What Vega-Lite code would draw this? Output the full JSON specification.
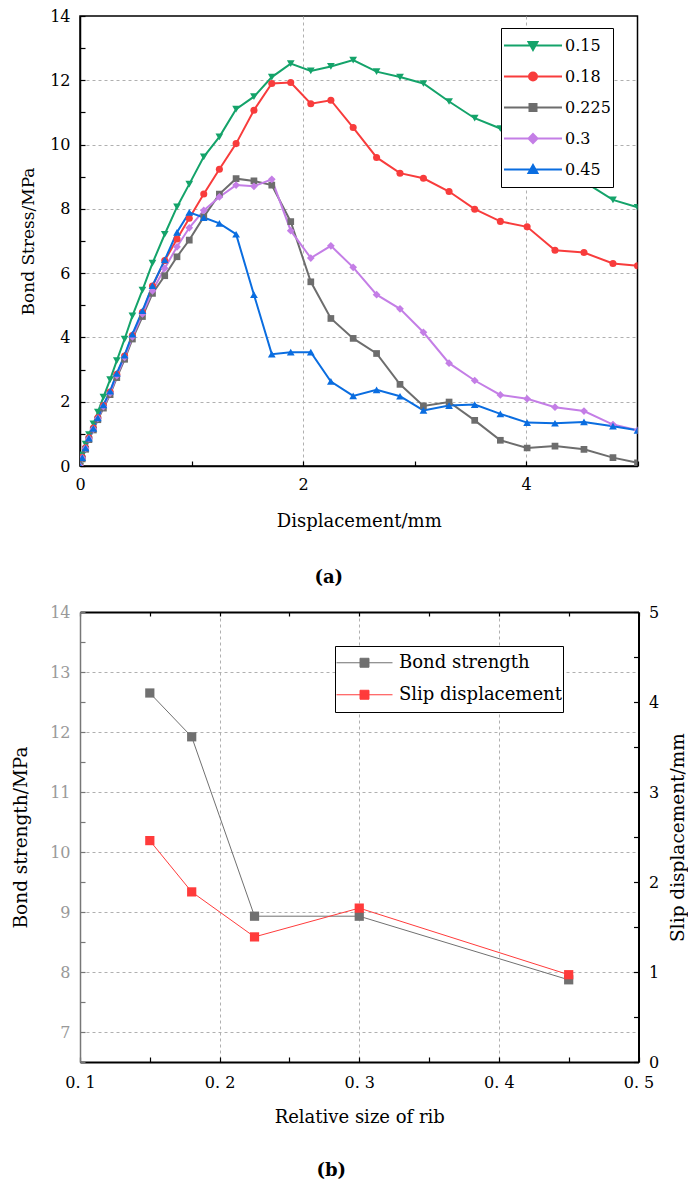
{
  "$schema": "https://vega.github.io/schema/vega-lite/v6.json",
  "padding": {"left": 11, "top": 7, "right": 0, "bottom": 0},
  "spacing": 16,
  "resolve": {"scale": {"color": "independent", "shape": "independent"}, "legend": {"color": "independent", "shape": "independent"}},
  "config": {
    "font": "DejaVu Serif",
    "axis": {"labelFont": "DejaVu Serif", "titleFont": "DejaVu Serif", "labelColor": "black", "titleColor": "black", "titleFontWeight": "normal", "domainColor": "black", "tickColor": "black", "gridColor": "#b0b0b0", "gridDash": [3, 3], "gridWidth": 1, "labelFlush": false, "labelOverlap": false},
    "legend": {"labelFont": "DejaVu Serif", "labelColor": "black"},
    "title": {"font": "DejaVu Serif", "color": "black"}
  },
  "datasets": {
    "a": [
      {"r": "0.15", "d": 0, "s": 0}, {"r": "0.15", "d": 0.02, "s": 0.35}, {"r": "0.15", "d": 0.05, "s": 0.68}, {"r": "0.15", "d": 0.08, "s": 0.98}, {"r": "0.15", "d": 0.12, "s": 1.31}, {"r": "0.15", "d": 0.16, "s": 1.68}, {"r": "0.15", "d": 0.21, "s": 2.14}, {"r": "0.15", "d": 0.27, "s": 2.69}, {"r": "0.15", "d": 0.33, "s": 3.28}, {"r": "0.15", "d": 0.40, "s": 3.95}, {"r": "0.15", "d": 0.47, "s": 4.67},
      {"r": "0.15", "d": 0.56, "s": 5.47}, {"r": "0.15", "d": 0.65, "s": 6.31}, {"r": "0.15", "d": 0.76, "s": 7.21}, {"r": "0.15", "d": 0.87, "s": 8.06}, {"r": "0.15", "d": 0.98, "s": 8.77}, {"r": "0.15", "d": 1.11, "s": 9.62}, {"r": "0.15", "d": 1.25, "s": 10.24}, {"r": "0.15", "d": 1.40, "s": 11.1}, {"r": "0.15", "d": 1.56, "s": 11.49}, {"r": "0.15", "d": 1.72, "s": 12.10}, {"r": "0.15", "d": 1.89, "s": 12.52}, {"r": "0.15", "d": 2.07, "s": 12.29}, {"r": "0.15", "d": 2.25, "s": 12.43}, {"r": "0.15", "d": 2.45, "s": 12.63}, {"r": "0.15", "d": 2.66, "s": 12.27}, {"r": "0.15", "d": 2.87, "s": 12.10}, {"r": "0.15", "d": 3.08, "s": 11.90}, {"r": "0.15", "d": 3.31, "s": 11.34}, {"r": "0.15", "d": 3.54, "s": 10.82}, {"r": "0.15", "d": 3.77, "s": 10.5}, {"r": "0.15", "d": 4.01, "s": 9.97}, {"r": "0.15", "d": 4.26, "s": 9.42}, {"r": "0.15", "d": 4.52, "s": 8.85}, {"r": "0.15", "d": 4.78, "s": 8.28}, {"r": "0.15", "d": 5.0, "s": 8.05},
      {"r": "0.18", "d": 0, "s": 0}, {"r": "0.18", "d": 0.02, "s": 0.27}, {"r": "0.18", "d": 0.05, "s": 0.57}, {"r": "0.18", "d": 0.08, "s": 0.88}, {"r": "0.18", "d": 0.12, "s": 1.18}, {"r": "0.18", "d": 0.16, "s": 1.5}, {"r": "0.18", "d": 0.21, "s": 1.88}, {"r": "0.18", "d": 0.27, "s": 2.3}, {"r": "0.18", "d": 0.33, "s": 2.85}, {"r": "0.18", "d": 0.40, "s": 3.42}, {"r": "0.18", "d": 0.47, "s": 4.06},
      {"r": "0.18", "d": 0.56, "s": 4.78}, {"r": "0.18", "d": 0.65, "s": 5.6}, {"r": "0.18", "d": 0.76, "s": 6.39}, {"r": "0.18", "d": 0.87, "s": 7.06}, {"r": "0.18", "d": 0.98, "s": 7.71}, {"r": "0.18", "d": 1.11, "s": 8.46}, {"r": "0.18", "d": 1.25, "s": 9.23}, {"r": "0.18", "d": 1.40, "s": 10.03}, {"r": "0.18", "d": 1.56, "s": 11.07}, {"r": "0.18", "d": 1.72, "s": 11.9}, {"r": "0.18", "d": 1.89, "s": 11.93}, {"r": "0.18", "d": 2.07, "s": 11.27}, {"r": "0.18", "d": 2.25, "s": 11.38}, {"r": "0.18", "d": 2.45, "s": 10.53}, {"r": "0.18", "d": 2.66, "s": 9.6}, {"r": "0.18", "d": 2.87, "s": 9.11}, {"r": "0.18", "d": 3.08, "s": 8.95}, {"r": "0.18", "d": 3.31, "s": 8.54}, {"r": "0.18", "d": 3.54, "s": 7.99}, {"r": "0.18", "d": 3.77, "s": 7.61}, {"r": "0.18", "d": 4.01, "s": 7.44}, {"r": "0.18", "d": 4.26, "s": 6.71}, {"r": "0.18", "d": 4.52, "s": 6.64}, {"r": "0.18", "d": 4.78, "s": 6.30}, {"r": "0.18", "d": 5.0, "s": 6.23},
      {"r": "0.225", "d": 0, "s": 0}, {"r": "0.225", "d": 0.02, "s": 0.22}, {"r": "0.225", "d": 0.05, "s": 0.52}, {"r": "0.225", "d": 0.08, "s": 0.82}, {"r": "0.225", "d": 0.12, "s": 1.12}, {"r": "0.225", "d": 0.16, "s": 1.44}, {"r": "0.225", "d": 0.21, "s": 1.8}, {"r": "0.225", "d": 0.27, "s": 2.22}, {"r": "0.225", "d": 0.33, "s": 2.75}, {"r": "0.225", "d": 0.40, "s": 3.32}, {"r": "0.225", "d": 0.47, "s": 3.95},
      {"r": "0.225", "d": 0.56, "s": 4.65}, {"r": "0.225", "d": 0.65, "s": 5.37}, {"r": "0.225", "d": 0.76, "s": 5.92}, {"r": "0.225", "d": 0.87, "s": 6.51}, {"r": "0.225", "d": 0.98, "s": 7.03}, {"r": "0.225", "d": 1.11, "s": 7.75}, {"r": "0.225", "d": 1.25, "s": 8.46}, {"r": "0.225", "d": 1.40, "s": 8.94}, {"r": "0.225", "d": 1.56, "s": 8.87}, {"r": "0.225", "d": 1.72, "s": 8.74}, {"r": "0.225", "d": 1.89, "s": 7.6}, {"r": "0.225", "d": 2.07, "s": 5.73}, {"r": "0.225", "d": 2.25, "s": 4.59}, {"r": "0.225", "d": 2.45, "s": 3.97}, {"r": "0.225", "d": 2.66, "s": 3.5}, {"r": "0.225", "d": 2.87, "s": 2.54}, {"r": "0.225", "d": 3.08, "s": 1.87}, {"r": "0.225", "d": 3.31, "s": 1.99}, {"r": "0.225", "d": 3.54, "s": 1.42}, {"r": "0.225", "d": 3.77, "s": 0.80}, {"r": "0.225", "d": 4.01, "s": 0.56}, {"r": "0.225", "d": 4.26, "s": 0.62}, {"r": "0.225", "d": 4.52, "s": 0.52}, {"r": "0.225", "d": 4.78, "s": 0.26}, {"r": "0.225", "d": 5.0, "s": 0.10},
      {"r": "0.3", "d": 0, "s": 0}, {"r": "0.3", "d": 0.02, "s": 0.25}, {"r": "0.3", "d": 0.05, "s": 0.55}, {"r": "0.3", "d": 0.08, "s": 0.85}, {"r": "0.3", "d": 0.12, "s": 1.15}, {"r": "0.3", "d": 0.16, "s": 1.48}, {"r": "0.3", "d": 0.21, "s": 1.85}, {"r": "0.3", "d": 0.27, "s": 2.27}, {"r": "0.3", "d": 0.33, "s": 2.81}, {"r": "0.3", "d": 0.40, "s": 3.38}, {"r": "0.3", "d": 0.47, "s": 4.02},
      {"r": "0.3", "d": 0.56, "s": 4.73}, {"r": "0.3", "d": 0.65, "s": 5.45}, {"r": "0.3", "d": 0.76, "s": 6.15}, {"r": "0.3", "d": 0.87, "s": 6.82}, {"r": "0.3", "d": 0.98, "s": 7.41}, {"r": "0.3", "d": 1.11, "s": 7.95}, {"r": "0.3", "d": 1.25, "s": 8.37}, {"r": "0.3", "d": 1.40, "s": 8.74}, {"r": "0.3", "d": 1.56, "s": 8.70}, {"r": "0.3", "d": 1.72, "s": 8.92}, {"r": "0.3", "d": 1.89, "s": 7.32}, {"r": "0.3", "d": 2.07, "s": 6.47}, {"r": "0.3", "d": 2.25, "s": 6.85}, {"r": "0.3", "d": 2.45, "s": 6.18}, {"r": "0.3", "d": 2.66, "s": 5.33}, {"r": "0.3", "d": 2.87, "s": 4.89}, {"r": "0.3", "d": 3.08, "s": 4.16}, {"r": "0.3", "d": 3.31, "s": 3.20}, {"r": "0.3", "d": 3.54, "s": 2.66}, {"r": "0.3", "d": 3.77, "s": 2.21}, {"r": "0.3", "d": 4.01, "s": 2.09}, {"r": "0.3", "d": 4.26, "s": 1.83}, {"r": "0.3", "d": 4.52, "s": 1.71}, {"r": "0.3", "d": 4.78, "s": 1.29}, {"r": "0.3", "d": 5.0, "s": 1.11},
      {"r": "0.45", "d": 0, "s": 0}, {"r": "0.45", "d": 0.02, "s": 0.26}, {"r": "0.45", "d": 0.05, "s": 0.56}, {"r": "0.45", "d": 0.08, "s": 0.87}, {"r": "0.45", "d": 0.12, "s": 1.17}, {"r": "0.45", "d": 0.16, "s": 1.5}, {"r": "0.45", "d": 0.21, "s": 1.9}, {"r": "0.45", "d": 0.27, "s": 2.33}, {"r": "0.45", "d": 0.33, "s": 2.88}, {"r": "0.45", "d": 0.40, "s": 3.45}, {"r": "0.45", "d": 0.47, "s": 4.1},
      {"r": "0.45", "d": 0.56, "s": 4.83}, {"r": "0.45", "d": 0.65, "s": 5.61}, {"r": "0.45", "d": 0.76, "s": 6.41}, {"r": "0.45", "d": 0.87, "s": 7.27}, {"r": "0.45", "d": 0.98, "s": 7.89}, {"r": "0.45", "d": 1.11, "s": 7.73}, {"r": "0.45", "d": 1.25, "s": 7.55}, {"r": "0.45", "d": 1.40, "s": 7.21}, {"r": "0.45", "d": 1.56, "s": 5.33}, {"r": "0.45", "d": 1.72, "s": 3.48}, {"r": "0.45", "d": 1.89, "s": 3.54}, {"r": "0.45", "d": 2.07, "s": 3.54}, {"r": "0.45", "d": 2.25, "s": 2.63}, {"r": "0.45", "d": 2.45, "s": 2.18}, {"r": "0.45", "d": 2.66, "s": 2.37}, {"r": "0.45", "d": 2.87, "s": 2.17}, {"r": "0.45", "d": 3.08, "s": 1.73}, {"r": "0.45", "d": 3.31, "s": 1.88}, {"r": "0.45", "d": 3.54, "s": 1.91}, {"r": "0.45", "d": 3.77, "s": 1.62}, {"r": "0.45", "d": 4.01, "s": 1.35}, {"r": "0.45", "d": 4.26, "s": 1.33}, {"r": "0.45", "d": 4.52, "s": 1.37}, {"r": "0.45", "d": 4.78, "s": 1.24}, {"r": "0.45", "d": 5.0, "s": 1.11}
    ],
    "b": [
      {"rib": 0.15, "strength": 12.65, "slip": 2.46},
      {"rib": 0.18, "strength": 11.92, "slip": 1.89},
      {"rib": 0.225, "strength": 8.93, "slip": 1.39},
      {"rib": 0.3, "strength": 8.93, "slip": 1.71},
      {"rib": 0.45, "strength": 7.87, "slip": 0.97}
    ]
  },
  "vconcat": [
    {
      "width": 557.5,
      "height": 450,
      "view": {"stroke": "black", "strokeWidth": 1.5},
      "title": {"text": "(a)", "orient": "bottom", "fontSize": 18, "fontWeight": "bold", "dx": -30, "offset": 39},
      "data": {"name": "a"},
      "encoding": {
        "x": {"field": "d", "type": "quantitative", "scale": {"domain": [0, 5], "nice": false, "zero": false},
          "axis": {"values": [0, 1, 2, 3, 4, 5], "labelExpr": "datum.value % 2 == 0 ? datum.label : ''", "labelFontSize": 16, "labelPadding": 15, "tickSize": -5, "tickWidth": 1.2, "domainWidth": 1.5, "grid": true,
            "gridOpacity": {"condition": {"test": "datum.value % 2 == 0 && datum.value > 0 && datum.value < 5", "value": 1}, "value": 0},
            "title": "Displacement/mm", "titleFontSize": 18, "titlePadding": 20}},
        "y": {"field": "s", "type": "quantitative", "scale": {"domain": [0, 14], "nice": false},
          "axis": {"values": [0, 1, 2, 3, 4, 5, 6, 7, 8, 9, 10, 11, 12, 13, 14], "labelExpr": "datum.value % 2 == 0 ? datum.label : ''", "labelFontSize": 16, "labelPadding": 15, "tickSize": -5, "tickWidth": 1.2, "domainWidth": 1.5, "grid": true,
            "gridOpacity": {"condition": {"test": "datum.value % 2 == 0 && datum.value > 0 && datum.value < 14", "value": 1}, "value": 0},
            "title": "Bond Stress/MPa", "titleFontSize": 17, "titlePadding": 12}},
        "color": {"field": "r", "type": "nominal",
          "scale": {"domain": ["0.15", "0.18", "0.225", "0.3", "0.45"], "range": ["#14a36a", "#f83c3c", "#6d6d6d", "#c47ee6", "#0a6de0"]},
          "legend": {"title": null, "orient": "none", "legendX": 421, "legendY": 12, "padding": 2, "clipHeight": 31, "rowPadding": 0,
            "symbolSize": 784, "symbolStrokeWidth": 2, "symbolOpacity": 1, "labelOffset": 32, "labelFontSize": 16, "labelLimit": 0,
            "strokeColor": "black", "fillColor": "white"}
        }
      },
      "layer": [
        {"mark": {"type": "point", "filled": true, "opacity": 0, "clip": true},
          "encoding": {"shape": {"field": "r", "type": "nominal", "legend": null,
            "scale": {"domain": ["0.15", "0.18", "0.225", "0.3", "0.45"], "range": [
              "M-1,0H3.143M0.75,-0.25L1.39,-0.25L1.071,0.32Z",
              "M-1,0H3.143M1.357,0A0.286,0.286 0 1,1 0.785,0A0.286,0.286 0 1,1 1.357,0Z",
              "M-1,0H3.143M0.821,-0.25H1.321V0.25H0.821Z",
              "M-1,0H3.143M1.071,-0.32L1.391,0L1.071,0.32L0.751,0Z",
              "M-1,0H3.143M0.75,0.25L1.39,0.25L1.071,-0.32Z"]}}}},
        {"mark": {"type": "line", "strokeWidth": 2, "clip": true}},
        {"transform": [{"filter": "datum.r == '0.15'"}], "mark": {"type": "point", "shape": "triangle-down", "filled": true, "size": 60, "opacity": 1, "clip": true}},
        {"transform": [{"filter": "datum.r == '0.18'"}], "mark": {"type": "point", "shape": "circle", "filled": true, "size": 50, "opacity": 1, "clip": true}},
        {"transform": [{"filter": "datum.r == '0.225'"}], "mark": {"type": "point", "shape": "square", "filled": true, "size": 45, "opacity": 1, "clip": true}},
        {"transform": [{"filter": "datum.r == '0.3'"}], "mark": {"type": "point", "shape": "diamond", "filled": true, "size": 60, "opacity": 1, "clip": true}},
        {"transform": [{"filter": "datum.r == '0.45'"}], "mark": {"type": "point", "shape": "triangle-up", "filled": true, "size": 60, "opacity": 1, "clip": true}}
      ]
    },
    {
      "width": 558.5,
      "height": 450,
      "view": {"stroke": null},
      "title": {"text": "(b)", "orient": "bottom", "fontSize": 18, "fontWeight": "bold", "dx": -28, "offset": 36},
      "data": {"name": "b"},
      "layer": [
        {
          "mark": {"type": "line", "strokeWidth": 1, "point": {"shape": "square", "size": 85, "filled": true, "opacity": 1}},
          "encoding": {
            "x": {"field": "rib", "type": "quantitative", "scale": {"domain": [0.1, 0.5], "nice": false, "zero": false},
              "axis": {"orient": "bottom", "values": [0.1, 0.15, 0.2, 0.25, 0.3, 0.35, 0.4, 0.45, 0.5],
                "labelExpr": "abs(datum.value * 10 - round(datum.value * 10)) < 0.001 ? replace(format(datum.value, '.1f'), '.', '. ') : ''",
                "labelFontSize": 16, "labelPadding": 17, "tickSize": -5, "tickWidth": 1.2, "domainWidth": 2, "grid": true,
                "gridOpacity": {"condition": {"test": "abs(datum.value * 10 - round(datum.value * 10)) < 0.001 && datum.value > 0.15 && datum.value < 0.45", "value": 1}, "value": 0},
                "title": "Relative size of rib", "titleFontSize": 18, "titlePadding": 18}},
            "y": {"field": "strength", "type": "quantitative", "scale": {"domain": [6.5, 14], "nice": false, "zero": false},
              "axis": {"orient": "left", "values": [6.5, 7, 7.5, 8, 8.5, 9, 9.5, 10, 10.5, 11, 11.5, 12, 12.5, 13, 13.5, 14], "format": ".0f",
                "labelExpr": "datum.value % 1 == 0 ? datum.label : ''", "labelColor": "#999999", "labelFontSize": 16, "labelPadding": 15,
                "tickSize": -5, "tickWidth": 1.2, "tickColor": "#777777", "domainColor": "#777777", "domainWidth": 1.5, "grid": true,
                "gridOpacity": {"condition": {"test": "datum.value % 1 == 0 && datum.value < 14", "value": 1}, "value": 0},
                "title": "Bond strength/MPa", "titleFontSize": 18.5, "titlePadding": 19}},
            "color": {"datum": "Bond strength",
              "scale": {"domain": ["Bond strength", "Slip displacement"], "range": ["#707070", "#ff3b3b"]},
              "legend": {"title": null, "orient": "none", "legendX": 255, "legendY": 34, "padding": 1, "clipHeight": 31.5, "rowPadding": 0,
                "symbolType": "M-1,0H3M0.68,-0.32H1.32V0.32H0.68Z", "symbolSize": 784, "symbolStrokeWidth": 1, "symbolOpacity": 1,
                "labelOffset": 34, "labelFontSize": 18, "labelLimit": 0, "strokeColor": "black", "fillColor": "white"}}
          }
        },
        {
          "mark": {"type": "line", "strokeWidth": 1, "point": {"shape": "square", "size": 85, "filled": true, "opacity": 1}},
          "encoding": {
            "x": {"field": "rib", "type": "quantitative", "scale": {"domain": [0.1, 0.5], "nice": false, "zero": false},
              "axis": {"orient": "top", "values": [0.1, 0.15, 0.2, 0.25, 0.3, 0.35, 0.4, 0.45, 0.5], "labels": false, "title": null, "grid": false, "tickSize": -4, "tickWidth": 1.2, "domainWidth": 2}},
            "y": {"field": "slip", "type": "quantitative", "scale": {"domain": [0, 5], "nice": false, "zero": false},
              "axis": {"orient": "right", "values": [0, 0.5, 1, 1.5, 2, 2.5, 3, 3.5, 4, 4.5, 5], "format": ".0f",
                "labelExpr": "datum.value % 1 == 0 ? datum.label : ''", "labelFontSize": 16, "labelPadding": 15,
                "tickSize": -5, "tickWidth": 1.2, "domainWidth": 2, "grid": false,
                "title": "Slip displacement/mm", "titleFontSize": 18.5, "titleAngle": 270, "titleBaseline": "top", "titlePadding": 10}},
            "color": {"datum": "Slip displacement"}
          }
        }
      ],
      "resolve": {"scale": {"y": "independent"}, "axis": {"x": "independent", "y": "independent"}}
    }
  ]
}
